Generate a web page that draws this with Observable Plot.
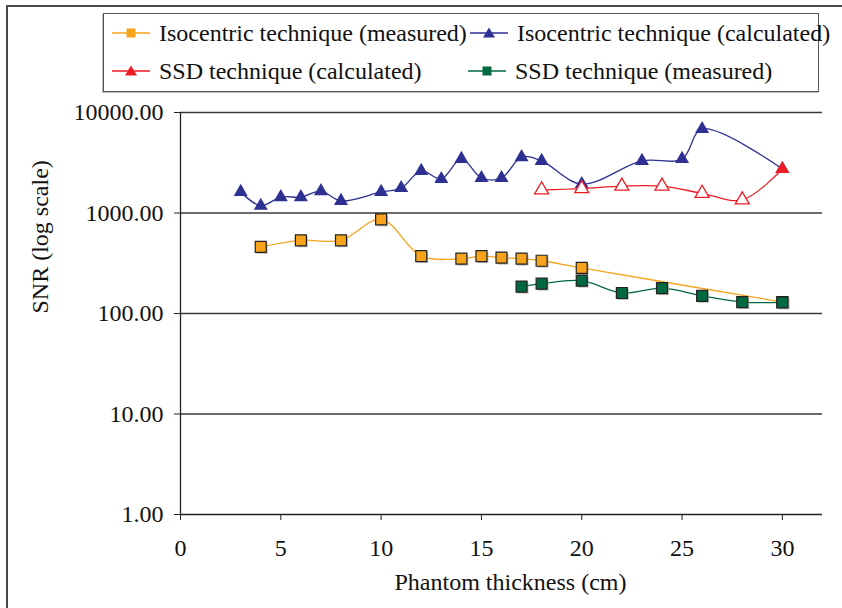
<!DOCTYPE html>
<html><head><meta charset="utf-8">
<script src="https://cdn.jsdelivr.net/npm/d3@7"></script>
<script src="https://cdn.jsdelivr.net/npm/@observablehq/plot@0.6"></script>
<style>
body{margin:0;background:#fff;}
#wrap{position:relative;width:842px;height:608px;overflow:hidden;font-family:"Liberation Serif","Times New Roman",serif;background:#fff}
#frame{position:absolute;left:6px;top:5px;width:860px;height:640px;border:2px solid #4a4a4a;pointer-events:none}
#legend{position:absolute;left:103px;top:13px;width:714px;height:77px;border:1px solid #555;background:#fff;box-shadow:-1px 1px 0 #bbb}
.item{position:absolute;height:28px;line-height:28px;font-size:24px;white-space:nowrap;color:#111}
.item svg{position:absolute;left:0;top:0}
.item span{position:absolute;left:47px;top:0}
</style></head>
<body>
<div id="wrap"><div id="chart"></div><div id="frame"></div><div id="legend"></div></div>
<script>
// ---- data ----
const seriesNames = ["Isocentric technique (measured)", "Isocentric technique (calculated)", "SSD technique (calculated)", "SSD technique (measured)"];
const seriesColors = ["#F7A31C", "#2E3192", "#ED1C24", "#00693F"];

const isoMeasX = [4, 6, 8, 10, 12, 14, 15, 16, 17, 18, 20, 30];
const isoMeasY = [460, 535, 535, 865, 373, 351, 373, 359, 351, 335, 284, 130];

const isoCalcX = [3, 4, 5, 6, 7, 8, 10, 11, 12, 13, 14, 15, 16, 17, 18, 20, 23, 25, 26, 30];
const isoCalcY = [1620, 1180, 1440, 1440, 1650, 1320, 1620, 1770, 2620, 2180, 3450, 2230, 2230, 3600, 3300, 1940, 3300, 3450, 6850, 2740];

const ssdCalcX = [18, 20, 22, 24, 26, 28, 30];
const ssdCalcY = [1700, 1750, 1850, 1850, 1570, 1350, 2740];

const ssdMeasX = [17, 18, 20, 22, 24, 26, 28, 30];
const ssdMeasY = [185, 198, 212, 160, 179, 150, 130, 129];

const xTicks = [0, 5, 10, 15, 20, 25, 30];
const yTicks = [1, 10, 100, 1000, 10000];
const xTitle = "Phantom thickness (cm)";
const yTitle = "SNR (log scale)";

// ---- build ----
const rows = (xs, ys) => xs.map((x, i) => ({x, y: ys[i]}));
const isoMeas = rows(isoMeasX, isoMeasY);
const isoCalc = rows(isoCalcX, isoCalcY);
const ssdCalc = rows(ssdCalcX, ssdCalcY);
const ssdMeas = rows(ssdMeasX, ssdMeasY);
const curve = "catmull-rom";
const sqR = 6.2, triR = 5.2;

const chart = Plot.plot({
  width: 842, height: 608,
  marginLeft: 180, marginRight: 20, marginTop: 112, marginBottom: 94,
  style: {fontFamily: "'Liberation Serif', serif", fontSize: "24px", color: "#111", background: "transparent", overflow: "visible"},
  x: {domain: [0, 32]},
  y: {type: "log", domain: [1, 10000]},
  marks: [
    Plot.ruleY(yTicks.slice(1), {stroke: "#3a3a3a", strokeWidth: 1.3}),
    Plot.ruleY([1], {stroke: "#222", strokeWidth: 1.3}),
    Plot.ruleX([0], {stroke: "#222", strokeWidth: 1.3}),
    Plot.axisY({ticks: yTicks, tickFormat: d => d.toFixed(2), tickSize: 6, tickPadding: 11, label: null, stroke: "#222"}),
    Plot.axisX({ticks: xTicks, tickFormat: d => String(d), tickSize: 6, tickPadding: 18, label: null, stroke: "#222"}),
    Plot.text([yTitle], {frameAnchor: "left", rotate: -90, dx: -140, fontSize: 24, fill: "#111"}),
    Plot.text([xTitle], {frameAnchor: "bottom", dx: 9, dy: 75, fontSize: 24, fill: "#111"}),

    // Isocentric measured
    Plot.line(isoMeas, {x: "x", y: "y", stroke: seriesColors[0], strokeWidth: 1.3, curve}),
    Plot.dot(isoMeas, {x: "x", y: "y", symbol: "square", r: sqR, fill: "#aaa", dx: 1.5, dy: 1.5, opacity: 0.7}),
    Plot.dot(isoMeas, {x: "x", y: "y", symbol: "square", r: sqR, fill: seriesColors[0], stroke: "#222", strokeWidth: 1.2}),

    // Isocentric calculated
    Plot.line(isoCalc, {x: "x", y: "y", stroke: seriesColors[1], strokeWidth: 1.3, curve}),
    Plot.dot(isoCalc, {x: "x", y: "y", symbol: "triangle", r: triR, fill: seriesColors[1], stroke: "none"}),

    // SSD calculated
    Plot.line(ssdCalc, {x: "x", y: "y", stroke: seriesColors[2], strokeWidth: 1.3, curve}),
    Plot.dot(ssdCalc, {filter: (d, i) => i < ssdCalc.length - 1, x: "x", y: "y", symbol: "triangle", r: triR, fill: "white", stroke: seriesColors[2], strokeWidth: 1.3}),
    Plot.dot(ssdCalc, {filter: (d, i) => i === ssdCalc.length - 1, x: "x", y: "y", symbol: "triangle", r: triR, fill: seriesColors[2], stroke: "none"}),

    // SSD measured
    Plot.line(ssdMeas, {x: "x", y: "y", stroke: seriesColors[3], strokeWidth: 1.3, curve}),
    Plot.dot(ssdMeas, {x: "x", y: "y", symbol: "square", r: sqR, fill: "#aaa", dx: 1.5, dy: 1.5, opacity: 0.7}),
    Plot.dot(ssdMeas, {x: "x", y: "y", symbol: "square", r: sqR, fill: seriesColors[3], stroke: "#222", strokeWidth: 1.2})
  ]
});
document.getElementById("chart").appendChild(chart);

// ---- legend ----
const legendItems = [
  {i: 0, sym: "square", left: 8, top: 5},
  {i: 1, sym: "triangle", left: 366, top: 5},
  {i: 2, sym: "triangle", left: 8, top: 43},
  {i: 3, sym: "square", left: 364, top: 43}
];
const legend = document.getElementById("legend");
for (const it of legendItems) {
  const c = seriesColors[it.i];
  const div = document.createElement("div");
  div.className = "item";
  div.style.left = it.left + "px";
  div.style.top = it.top + "px";
  const mk = it.sym === "square"
    ? `<rect x="14.5" y="9.5" width="9" height="9" fill="${c}"/>`
    : `<path d="M19,8.5 L25,18.5 L13,18.5 Z" fill="${c}"/>`;
  div.innerHTML = `<svg width="40" height="28"><line x1="0" x2="38" y1="14" y2="14" stroke="${c}" stroke-width="1.5"/>${mk}</svg><span>${seriesNames[it.i]}</span>`;
  legend.appendChild(div);
}
</script>
</body></html>
